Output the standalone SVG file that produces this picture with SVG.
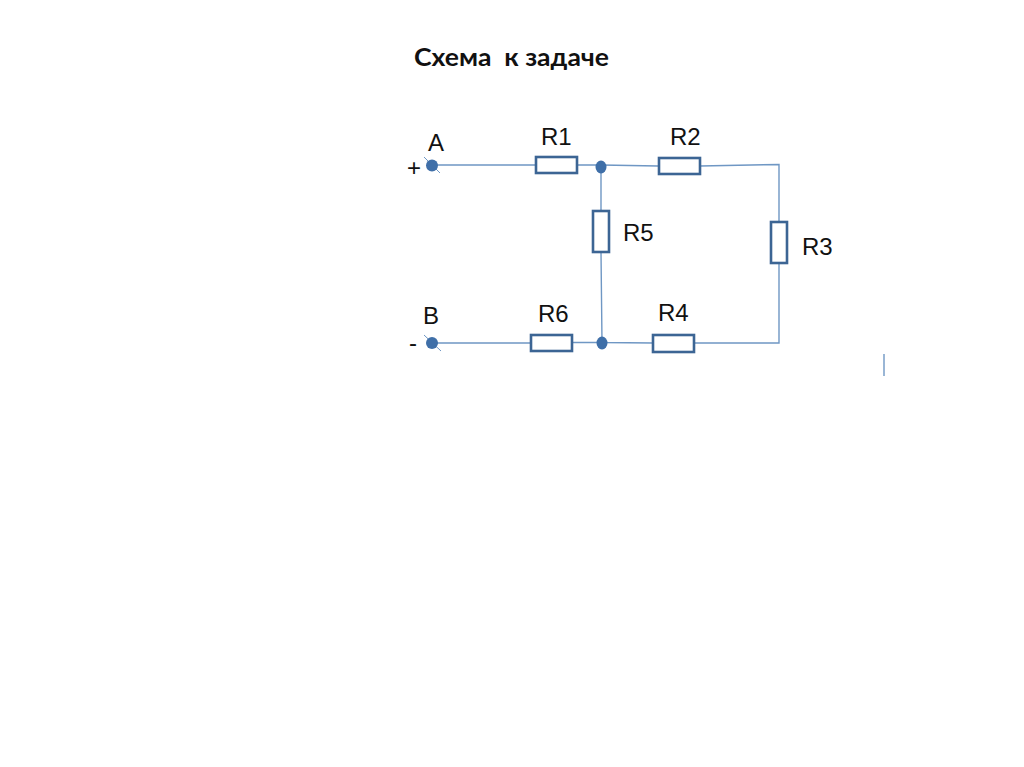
<svg xmlns="http://www.w3.org/2000/svg" width="1024" height="767" viewBox="0 0 1024 767">
<style>
.w{fill:none;stroke:#6f97c4;stroke-width:1.4}
.r{fill:#fff;stroke:#3c6594;stroke-width:2.6}
.d{fill:#3f6fa8}
.t{stroke:#6f97c4;stroke-width:1}
text{font-family:"Liberation Sans",Arial,sans-serif;font-size:24px;fill:#111}
.h{font-family:Lato,"Open Sans",sans-serif;font-weight:700;font-size:25px;fill:#111}
</style>
<rect width="1024" height="767" fill="#fff"/>
<g id="connectors">
<path class="w" d="M432 165H536M577 165H601L658 166M700 166L779 164.500V222M779 264V343H695M653 343L602 342.500H572M531 343H432M601 167V211M601 252L602 342"/>
<path class="w" d="M884 354V376"/>
</g>
<g id="title"><text class="h" x="414" y="66" textLength="195" lengthAdjust="spacingAndGlyphs" xml:space="preserve">Схема  к задаче</text></g>
<g id="A"><path class="t" d="M424 157L440 173"/><ellipse class="d" cx="432" cy="165.500" rx="6" ry="6"/><text x="428" y="151">A</text><text x="407" y="176">+</text></g>
<g id="B"><path class="t" d="M424 335L441 351"/><ellipse class="d" cx="432" cy="343" rx="6" ry="6"/><text x="423" y="324">B</text><text x="409" y="351">-</text></g>
<g id="n1"><ellipse class="d" cx="601" cy="167" rx="5.500" ry="6.500"/></g>
<g id="n2"><ellipse class="d" cx="602" cy="343" rx="5.500" ry="6.500"/></g>
<g id="R1"><rect class="r" x="536" y="157" width="41" height="16"/><text x="541" y="145">R1</text></g>
<g id="R2"><rect class="r" x="659" y="158" width="41" height="16"/><text x="670" y="145">R2</text></g>
<g id="R3"><rect class="r" x="771" y="222" width="16" height="41"/><text x="802" y="255">R3</text></g>
<g id="R4"><rect class="r" x="653" y="335" width="41" height="17"/><text x="658" y="321">R4</text></g>
<g id="R5"><rect class="r" x="593" y="211" width="16" height="41"/><text x="623" y="241">R5</text></g>
<g id="R6"><rect class="r" x="531" y="335" width="41" height="16"/><text x="538" y="322">R6</text></g>
</svg>
